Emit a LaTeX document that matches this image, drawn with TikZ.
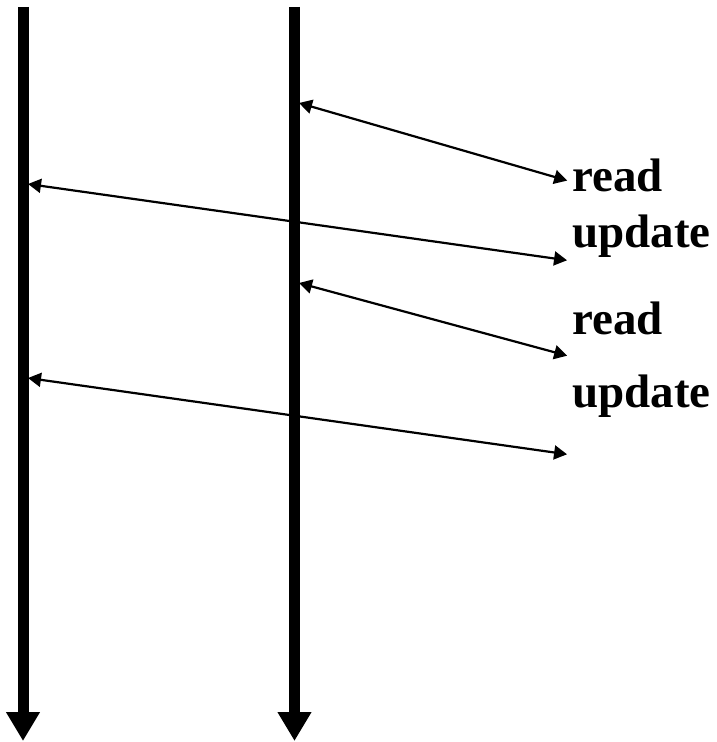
\documentclass[tikz,border=0pt]{standalone}
\usepackage{fontspec}
\setmainfont{Liberation Serif}
\usepackage{tikz}
\usetikzlibrary{arrows.meta}
\newcommand{\msgwidth}{1.1pt}
\newcommand{\lifewidth}{5.5pt}
\tikzstyle{lifeline}=[line width=\lifewidth, -{Triangle[length=14.5pt,width=16pt]}]
\tikzstyle{message}=[line width=\msgwidth, shorten >=2.5pt,
                     {Triangle[length=6.5pt,width=7pt]}-{Triangle[length=6.5pt,width=7pt]}]
\tikzstyle{op}=[anchor=base west, inner sep=0, font=\fontsize{23.5}{28}\selectfont\bfseries]
\tikzstyle{timeline}=[x=0.5pt, y=-0.5pt,
                      % Fix the page to the size of the drawing.
                      execute at begin picture={\useasboundingbox (0,0) rectangle (716,742);}]

\begin{document}
\begin{tikzpicture}[timeline]
        \coordinate (Ltop) at (23, 7);
        \coordinate (Lbot) at (23, 741);
        \coordinate (Rtop) at (294.5, 7);
        \coordinate (Rbot) at (294.5, 741);
        \draw[lifeline] (Ltop) -- (Lbot);
        \draw[lifeline] (Rtop) -- (Rbot);
        \node[op] (read1) at (572, 192) {read};
        \node[op] (update1) at (572, 248) {update};
        \node[op] (read2) at (572, 335) {read};
        \node[op] (update2) at (572, 407) {update};
        \coordinate (r1) at (299, 103);
        \coordinate (u1) at (28, 184);
        \coordinate (r2) at (299, 283);
        \coordinate (u2) at (28, 378);
        \draw[message] (r1) -- (read1.west |- 0, 182);
        \draw[message] (u1) -- (read1.west |- 0, 261);
        \draw[message] (r2) -- (read1.west |- 0, 357);
        \draw[message] (u2) -- (read1.west |- 0, 455);
    \end{tikzpicture}
\end{document}
